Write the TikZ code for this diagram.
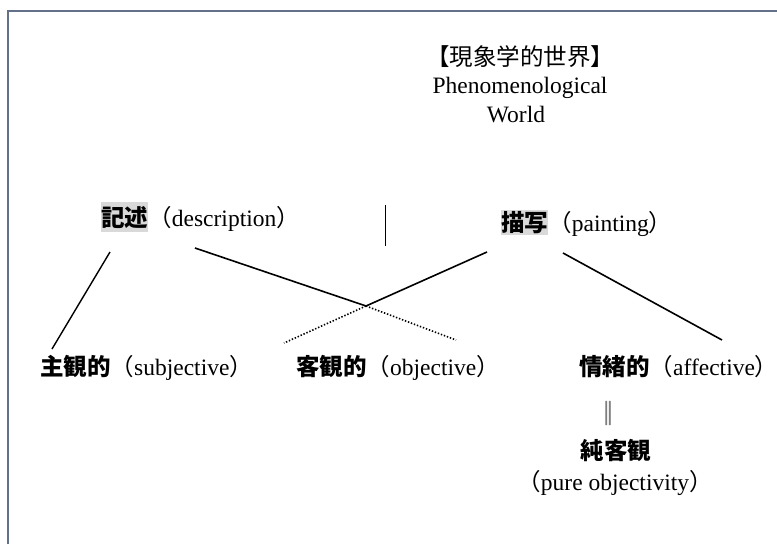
\documentclass[tikz,border=0pt]{standalone}
\usepackage{fontspec}
\setmainfont{Liberation Serif}
\newfontfamily\cjk{Noto Sans CJK JP}
\newfontfamily\cjkheavy[FakeBold=4]{Noto Sans CJK JP}
\newcommand\cjkR[1]{{\cjk #1}}
\newcommand\cjkB[1]{{\cjk\bfseries #1}}
\definecolor{framec}{HTML}{62708A}
\definecolor{hl}{HTML}{D9D9D9}
\definecolor{eqgray}{HTML}{7F7F7F}
\begin{document}
\begin{tikzpicture}[x=1pt,y=-1pt,
  every node/.style={inner sep=0pt, font=\fontsize{23.5}{28}\selectfont},
  hlbox/.style={fill=hl, inner sep=0pt},
  solidline/.style={line width=1.6pt, black},
  dotline/.style={line width=1.6pt, black, dash pattern=on 1.4pt off 1.8pt}]
\useasboundingbox (0,0) rectangle (777,544);
\fill[white] (0,0) rectangle (777,544);
% frame
\draw[framec, line width=2pt] (8,544) -- (8,11) -- (777,11);

% title
\node[anchor=base] (t1) at (520,65) {\cjkR{【現象学的世界】}};
\node[anchor=base] (t2) at (520,93) {Phenomenological};
\node[anchor=base] (t3) at (516,122) {World};

% upper labels
\node[hlbox, minimum width=47pt, minimum height=30pt] (desj) at (124.5,217) {\cjkB{記述}};
\node[anchor=base west] (dese) at (desj.base east) {\cjkR{（}description\cjkR{）}};
\node[hlbox, minimum width=45pt, minimum height=25pt] (paij) at (524.5,222.5) {\cjkB{描写}};
\node[anchor=base west] (paie) at (paij.base east) {\cjkR{（}painting\cjkR{）}};

% lower labels
\node[anchor=base west] (subj) at (40,375) {\cjkB{主観的}\cjkR{（}subjective\cjkR{）}};
\node[anchor=base west] (obj) at (296,375) {\cjkB{客観的}\cjkR{（}objective\cjkR{）}};
\node[anchor=base west] (aff) at (579,375) {\cjkB{情緒的}\cjkR{（}affective\cjkR{）}};
\node[text=eqgray] (eq) at (608,413) {{\cjkheavy ‖}};
\node (pure) at (616,451) {\cjkB{純客観}};
\node[anchor=base] (purel) at (615,490) {\cjkR{（}pure objectivity\cjkR{）}};

% connector end points
\coordinate (d1) at (110,252);
\coordinate (s1) at (52,349);
\coordinate (d2) at (195,248);
\coordinate (x)  at (366,306);
\coordinate (o2) at (456,340);
\coordinate (p1) at (487,252);
\coordinate (o1) at (284,343);
\coordinate (p2) at (563,253);
\coordinate (a1) at (722,340);
\coordinate (v1) at (385,205);
\coordinate (v2) at (385,246);

\draw[line width=1.4pt] (d1) -- (s1);
\draw[solidline] (d2) -- (x);
\draw[dotline] (x) -- (o2);
\draw[solidline] (p1) -- (x);
\draw[dotline] (x) -- (o1);
\draw[solidline] (p2) -- (a1);
\draw[line width=0.9pt] (v1) -- (v2);
\end{tikzpicture}
\end{document}
